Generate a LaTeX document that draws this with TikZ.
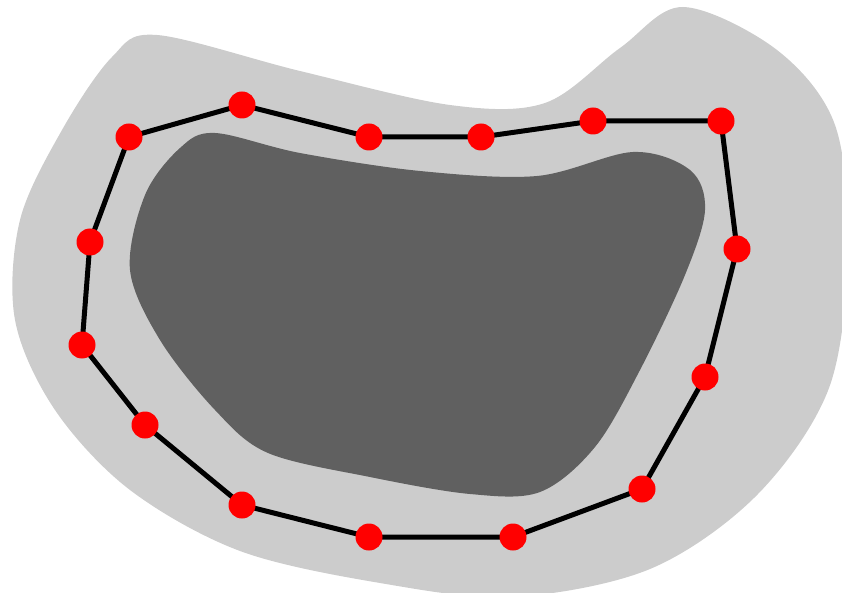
\documentclass[tikz,border=0pt]{standalone}
\usepackage{xcolor}
\usepackage{tikz}
\usetikzlibrary{backgrounds}
\definecolor{outerfill}{HTML}{CCCCCC}
\definecolor{innerfill}{HTML}{606060}
\definecolor{dotred}{HTML}{FF0000}

\begin{document}
\begin{tikzpicture}[x=1pt, y=-1pt,
  dot/.style={circle, fill=dotred, inner sep=0pt, minimum size=27pt},
  edge/.style={line width=5pt, black, line join=round}]
  \useasboundingbox (0,0) rectangle (842,593);
  \clip (0,0) rectangle (842,593);
  % sample points on the ring
  \foreach \n/\x/\y in {1/129/137, 2/242/105, 3/369/137, 4/481/137, 5/593/121,
                        6/721/121, 7/737/249, 8/705/377, 9/642/489, 10/513/537,
                        11/369/537, 12/242/505, 13/145/425, 14/82/345, 15/90/242}
    \node[dot] (p\n) at (\x,\y) {};
  \begin{scope}[on background layer]
    % outer region
    \fill[outerfill] plot[smooth cycle, tension=0.55] coordinates {
      (157,35) (300,71) (450,105) (545,103) (620,48) (683,7) (777,50)
      (835,125) (848,250) (829,388) (757,495) (650,569) (512,597) (380,583)
      (240,551) (130,490) (55,410) (15,320) (20,220) (62,130) (112,57)};
    % inner region
    \fill[innerfill] plot[smooth cycle, tension=0.55] coordinates {
      (215,133) (300,153) (420,171) (537,176) (633,152) (690,170) (705,210)
      (685,275) (640,370) (595,447) (540,492) (470,494) (370,477) (268,453)
      (215,410) (160,340) (130,270) (145,195) (180,148)};
    \draw[edge] (p1.center) \foreach \n in {2,...,15} {-- (p\n.center)} -- cycle;
  \end{scope}
\end{tikzpicture}
\end{document}
